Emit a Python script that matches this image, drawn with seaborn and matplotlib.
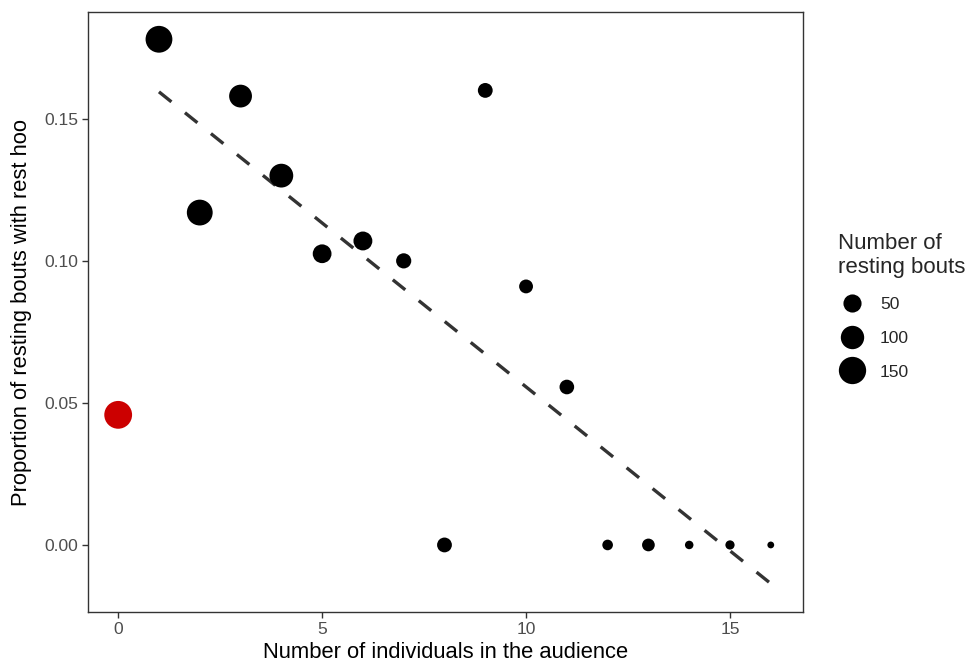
import numpy as np
import pandas as pd
import matplotlib
matplotlib.use("Agg")
import matplotlib.pyplot as plt
from matplotlib.lines import Line2D
import seaborn as sns

# ---- data ----
audience = [0, 1, 2, 3, 4, 5, 6, 7, 8, 9, 10, 11, 12, 13, 14, 15, 16]
proportion = [0.0458, 0.178, 0.117, 0.158, 0.130, 0.1025, 0.107, 0.100, 0.0,
              0.160, 0.091, 0.0556, 0.0, 0.0, 0.0, 0.0, 0.0]
bouts = [157, 143, 130, 94, 105, 55, 56, 30, 28, 28, 23, 27, 11, 18, 7, 8, 6]
group = ["none"] + ["audience"] * 16
legend_breaks = [50, 100, 150]

# fitted trend line (as drawn in the reference)
trend_x = [1, 16]
trend_y = [0.1595, -0.0136]

df = pd.DataFrame({"audience": audience, "proportion": proportion,
                   "bouts": bouts, "group": group})
trend = pd.DataFrame({"audience": trend_x, "proportion": trend_y})

sns.set_theme(style="ticks")
plt.rcParams["font.family"] = ["Liberation Sans", "DejaVu Sans"]

DPI = 100
fig = plt.figure(figsize=(9.73, 6.62), dpi=DPI)
ax = fig.add_axes([88 / 973, 1 - 612 / 662, (803 - 88) / 973, (612 - 12) / 662])

vmin, vmax = min(bouts), max(bouts)


def diam_pt(v):
    # ggplot-like area scale: diameter grows with sqrt of the rescaled value
    n = (v - vmin) / (vmax - vmin)
    d_px = 6.8 + 21.0 * np.sqrt(max(n, 0.0))
    return d_px * 72.0 / DPI


size_map = {v: diam_pt(v) ** 2 for v in set(bouts)}

sns.scatterplot(data=df, x="audience", y="proportion", size="bouts",
                sizes=size_map, hue="group",
                palette={"none": "#CC0000", "audience": "black"},
                linewidth=0, legend=False, ax=ax, zorder=3)

lw = 2.4
sns.lineplot(data=trend, x="audience", y="proportion", ax=ax,
             color="#333333", linewidth=lw,
             linestyle=(0, (11.5 / lw, 12.5 / lw)),
             zorder=2, dash_capstyle="butt")

ax.set_xlim(-0.74, 16.79)
ax.set_ylim(-0.0236, 0.1876)
ax.set_xticks([0, 5, 10, 15])
ax.set_xticklabels(["0", "5", "10", "15"])
ax.set_yticks([0.0, 0.05, 0.10, 0.15])
ax.set_yticklabels(["0.00", "0.05", "0.10", "0.15"])

for sp in ax.spines.values():
    sp.set_visible(True)
    sp.set_color("#333333")
    sp.set_linewidth(1.0)
ax.tick_params(axis="both", colors="#333333", labelcolor="#4D4D4D",
               labelsize=12.6, length=4, width=1.0, pad=3)
ax.grid(False)

ax.set_xlabel("Number of individuals in the audience", fontsize=15.8,
              color="black", labelpad=4)
ax.set_ylabel("Proportion of resting bouts with rest hoo", fontsize=15.8,
              color="black", labelpad=9)

handles = [Line2D([], [], marker="o", linestyle="", color="black",
                  markeredgewidth=0, markersize=diam_pt(b)) for b in legend_breaks]
leg = fig.legend(handles, [str(b) for b in legend_breaks],
                 title="Number of\nresting bouts", loc="upper left",
                 bbox_to_anchor=(831 / 973, 1 - 226 / 662),
                 frameon=False, fontsize=12.6, title_fontsize=16.0,
                 labelspacing=1.06, handletextpad=0.8, borderaxespad=0,
                 alignment="left", handlelength=1.6)

fig.savefig("out.png", dpi=DPI)
